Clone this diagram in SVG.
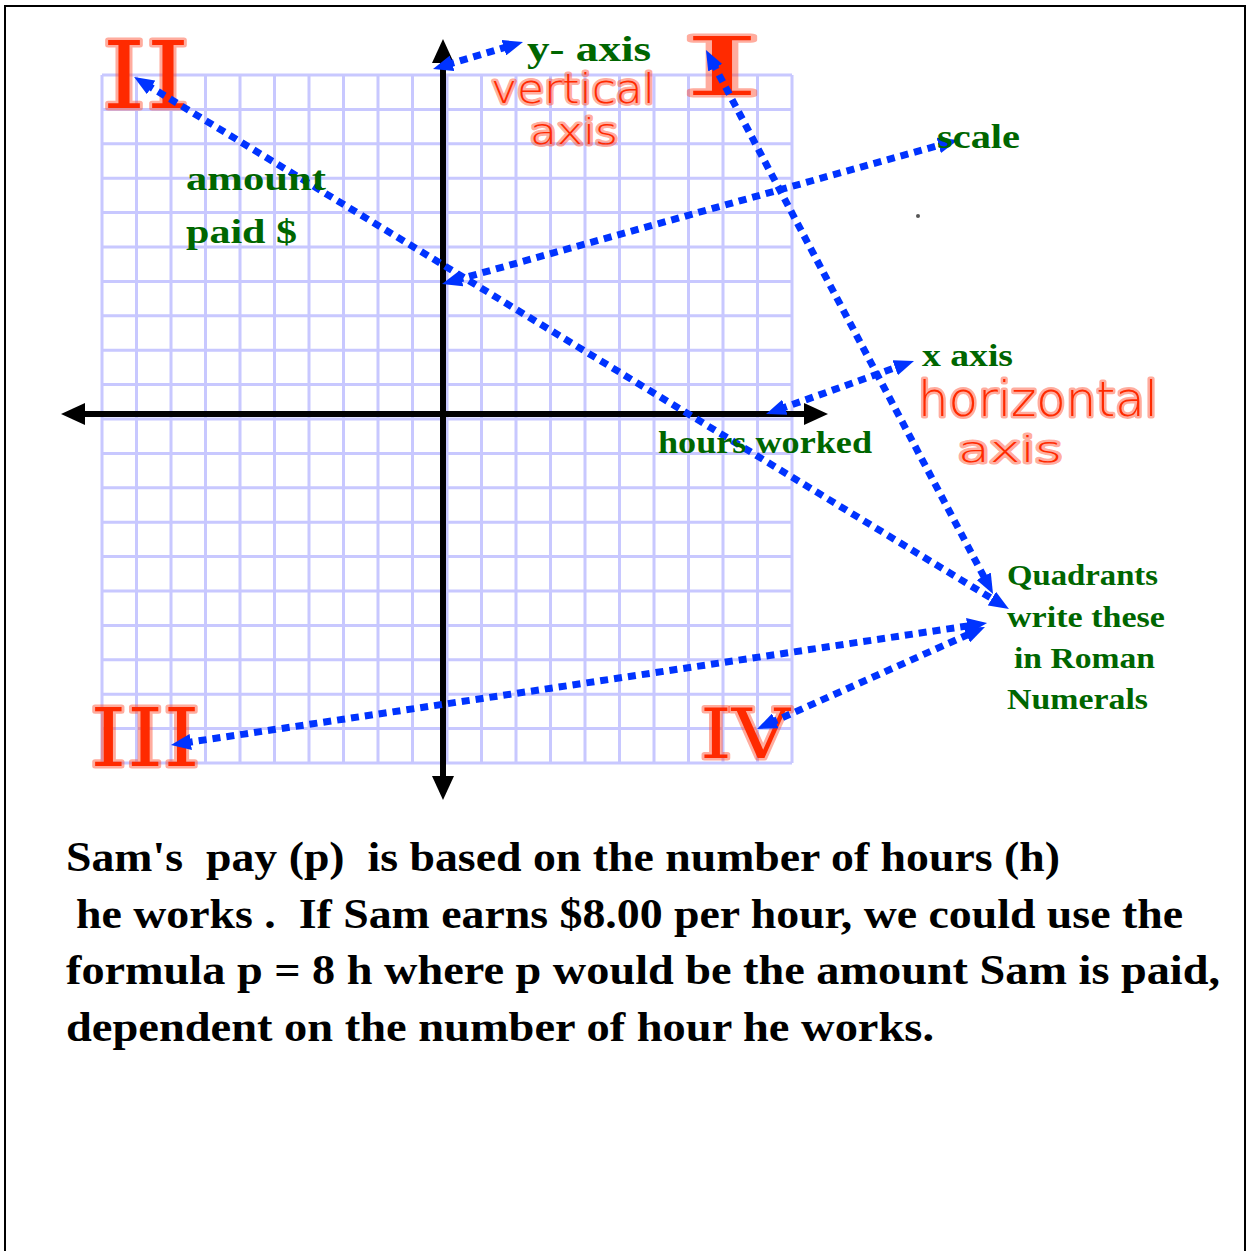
<svg xmlns="http://www.w3.org/2000/svg" width="1249" height="1251" viewBox="0 0 1249 1251">
<style>
  .grid { stroke: #c8c8ff; stroke-width: 3; fill: none; }
  .axis { stroke: #000; stroke-width: 6; fill: none; marker-start: url(#blackHead); marker-end: url(#blackHead); }
  .conn { stroke: #0033ff; stroke-width: 7; stroke-dasharray: 8 6; fill: none; marker-start: url(#blueHead); marker-end: url(#blueHead); }
  .lbl { font-family: "Liberation Serif", "Times New Roman", serif; font-weight: bold; fill: #006600; }
  .body { font-family: "Liberation Serif", "Times New Roman", serif; font-weight: bold; fill: #000; font-size: 42px; white-space: pre; }
  .ink { font-family: "DejaVu Sans", "Liberation Sans", sans-serif; font-weight: 200; fill: #ff2a00; stroke: rgba(255,70,40,0.45); stroke-width: 5; paint-order: stroke; stroke-linejoin: round; }
  .num { font-family: "DejaVu Serif", "Liberation Serif", serif; fill: #ff2a00; stroke: rgba(255,70,40,0.45); stroke-width: 5; paint-order: stroke; stroke-linejoin: round; }
</style>
<defs>
  <marker id="blackHead" markerUnits="userSpaceOnUse" markerWidth="24" markerHeight="22" refX="8" refY="11" orient="auto-start-reverse">
    <path d="M0,0 L24,11 L0,22 z" fill="#000"/>
  </marker>
  <marker id="blueHead" markerUnits="userSpaceOnUse" markerWidth="20" markerHeight="16" refX="6" refY="8" orient="auto-start-reverse">
    <path d="M0,0 L20,8 L0,16 z" fill="#0033ff"/>
  </marker>
</defs>

<rect width="1249" height="1251" fill="#fff"/>
<path d="M5,1251 V6 H1245 V1251" fill="none" stroke="#000" stroke-width="2"/>

<g id="grid">
  <path class="grid" d="M102,75V763 M136.5,75V763 M171,75V763 M205.5,75V763 M240,75V763 M274.5,75V763 M309,75V763 M343.5,75V763 M378,75V763 M412.5,75V763 M447,75V763 M481.5,75V763 M516,75V763 M550.5,75V763 M585,75V763 M619.5,75V763 M654,75V763 M688.5,75V763 M723,75V763 M757.5,75V763 M792,75V763"/>
  <path class="grid" d="M102,75H792 M102,109.4H792 M102,143.8H792 M102,178.2H792 M102,212.6H792 M102,247H792 M102,281.4H792 M102,315.8H792 M102,350.2H792 M102,384.6H792 M102,419H792 M102,453.4H792 M102,487.8H792 M102,522.2H792 M102,556.6H792 M102,591H792 M102,625.4H792 M102,659.8H792 M102,694.2H792 M102,728.6H792 M102,763H792"/>
</g>

<g id="axes">
  <line class="axis" x1="443" y1="55" x2="443" y2="784"/>
  <line class="axis" x1="77" y1="414" x2="812" y2="414"/>
</g>

<circle id="dot" cx="918" cy="216" r="2" fill="#555"/>

<g id="ink">
  <g id="quadrant-II"><text class="num" x="102" y="108" font-size="94" textLength="88" lengthAdjust="spacingAndGlyphs">II</text></g>
  <g id="quadrant-I"><text class="num" x="682" y="95" font-size="80" textLength="80" lengthAdjust="spacingAndGlyphs">I</text></g>
  <g id="quadrant-III"><text class="num" x="90" y="766" font-size="80" textLength="110" lengthAdjust="spacingAndGlyphs">III</text></g>
  <g id="quadrant-IV"><text class="num" x="700" y="758" font-size="70" textLength="90" lengthAdjust="spacingAndGlyphs">IV</text></g>
  <g id="vertical-axis-note">
    <text class="ink" x="491" y="103" font-size="40" textLength="164" lengthAdjust="spacingAndGlyphs">vertical</text>
    <text class="ink" x="530" y="144" font-size="36" textLength="88" lengthAdjust="spacingAndGlyphs">axis</text>
  </g>
  <g id="horizontal-axis-note">
    <text class="ink" x="918" y="416" font-size="48" textLength="240" lengthAdjust="spacingAndGlyphs">horizontal</text>
    <text class="ink" x="958" y="462" font-size="36" textLength="104" lengthAdjust="spacingAndGlyphs">axis</text>
  </g>
</g>

<g id="connectors">
  <line class="conn" x1="446.4" y1="65" x2="509.6" y2="46"/>
  <line class="conn" x1="146" y1="84.3" x2="997" y2="601.7"/>
  <line class="conn" x1="455.5" y1="280.2" x2="944.5" y2="143.8"/>
  <line class="conn" x1="712.5" y1="62.4" x2="986.5" y2="581.6"/>
  <line class="conn" x1="779.2" y1="409.3" x2="900.8" y2="365.7"/>
  <line class="conn" x1="184.8" y1="742.9" x2="973.2" y2="625.1"/>
  <line class="conn" x1="769.8" y1="723.3" x2="972.2" y2="632.7"/>
</g>

<g id="labels">
  <g id="y-axis-label"><text class="lbl" x="527" y="61" font-size="36" textLength="124" lengthAdjust="spacingAndGlyphs">y- axis</text></g>
  <g id="scale-label"><text class="lbl" x="937" y="148" font-size="34" textLength="83" lengthAdjust="spacingAndGlyphs">scale</text></g>
  <g id="amount-label">
    <text class="lbl" x="186" y="190" font-size="34" textLength="140" lengthAdjust="spacingAndGlyphs">amount</text>
    <text class="lbl" x="186" y="243" font-size="34" textLength="111" lengthAdjust="spacingAndGlyphs">paid $</text>
  </g>
  <g id="x-axis-label"><text class="lbl" x="922" y="366" font-size="32" textLength="91" lengthAdjust="spacingAndGlyphs">x axis</text></g>
  <g id="hours-label"><text class="lbl" x="658" y="453" font-size="31" textLength="214" lengthAdjust="spacingAndGlyphs">hours worked</text></g>
  <g id="quadrants-label">
    <text class="lbl" x="1007" y="585" font-size="29" textLength="151" lengthAdjust="spacingAndGlyphs">Quadrants</text>
    <text class="lbl" x="1007" y="627" font-size="29" textLength="158" lengthAdjust="spacingAndGlyphs">write these</text>
    <text class="lbl" x="1014" y="668" font-size="29" textLength="141" lengthAdjust="spacingAndGlyphs">in Roman</text>
    <text class="lbl" x="1007" y="709" font-size="29" textLength="141" lengthAdjust="spacingAndGlyphs">Numerals</text>
  </g>
</g>

<g id="description">
  <text class="body" xml:space="preserve" x="66" y="871" textLength="994" lengthAdjust="spacingAndGlyphs">Sam's  pay (p)  is based on the number of hours (h)</text>
  <text class="body" xml:space="preserve" x="76" y="928" textLength="1107" lengthAdjust="spacingAndGlyphs">he works .  If Sam earns $8.00 per hour, we could use the</text>
  <text class="body" xml:space="preserve" x="66" y="984" textLength="1154" lengthAdjust="spacingAndGlyphs">formula p = 8 h where p would be the amount Sam is paid,</text>
  <text class="body" xml:space="preserve" x="66" y="1041" textLength="868" lengthAdjust="spacingAndGlyphs">dependent on the number of hour he works.</text>
</g>
</svg>
